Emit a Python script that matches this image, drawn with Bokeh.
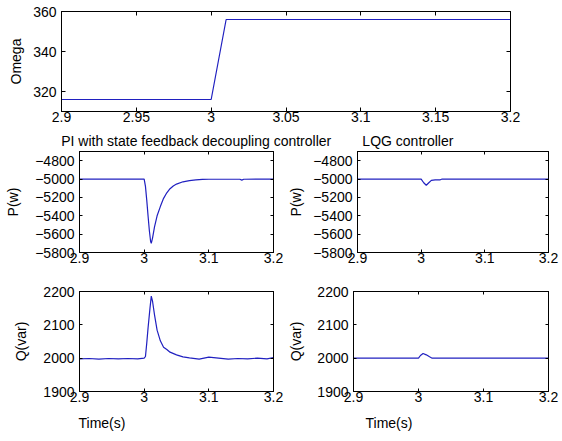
from bokeh.plotting import figure
from bokeh.models import Range1d, FixedTicker, LinearAxis, Title
from bokeh.layouts import column, row
from bokeh.embed import file_html
from bokeh.resources import INLINE
from bokeh.core.properties import value

# ---------------- data ----------------
t_omega = [2.90, 3.00, 3.01, 3.20]
omega = [316, 316, 356, 356]

t_pi_p = [2.900, 3.000, 3.002, 3.004, 3.006, 3.008, 3.010, 3.011, 3.013, 3.016,
          3.020, 3.025, 3.030, 3.035, 3.040, 3.045, 3.050, 3.060, 3.070, 3.080,
          3.090, 3.100, 3.148, 3.151, 3.154, 3.200]
p_pi = [-5000, -5000, -5080, -5230, -5400, -5560, -5680, -5700, -5640, -5520,
        -5400, -5300, -5210, -5150, -5105, -5075, -5055, -5030, -5018, -5010,
        -5004, -5002, -5002, -5012, -5002, -5000]

t_pi_q = [2.900, 2.915, 2.930, 2.945, 2.960, 2.975, 2.990, 3.000, 3.002, 3.004,
          3.006, 3.009, 3.011, 3.013, 3.016, 3.020, 3.025, 3.030, 3.035, 3.040,
          3.050, 3.060, 3.070, 3.085, 3.100, 3.115, 3.130, 3.145, 3.160, 3.175,
          3.190, 3.200]
q_pi = [1998, 1999, 1997, 1999, 1998, 1999, 1998, 2000, 2005, 2045,
        2090, 2150, 2186, 2170, 2130, 2084, 2052, 2033, 2026, 2018,
        2010, 2004, 2001, 1997, 2003, 2000, 1997, 1999, 1998, 2000,
        1998, 2002]

t_lqg_p = [2.900, 3.000, 3.004, 3.008, 3.012, 3.016, 3.022, 3.030, 3.033, 3.200]
p_lqg = [-5000, -5000, -5040, -5068, -5040, -5015, -5010, -5008, -5000, -5000]

t_lqg_q = [2.900, 3.000, 3.003, 3.007, 3.012, 3.017, 3.021, 3.200]
q_lqg = [2000, 2000, 2008, 2014, 2010, 2004, 2000, 2000]

x_ticks_top = [2.9, 2.95, 3.0, 3.05, 3.1, 3.15, 3.2]
x_labels_top = ["2.9", "2.95", "3", "3.05", "3.1", "3.15", "3.2"]
x_ticks_sub = [2.9, 3.0, 3.1, 3.2]
x_labels_sub = ["2.9", "3", "3.1", "3.2"]
omega_ticks = [320, 340, 360]
p_ticks = [-5800, -5600, -5400, -5200, -5000, -4800]
q_ticks = [1900, 2000, 2100, 2200]

titles = ["PI with state feedback decoupling controller", "LQG controller"]
y_labels = ["Omega", "P(w)", "Q(var)"]
x_label = "Time(s)"

# ---------------- style ----------------
FONT = "Liberation Sans"
FS = "14px"
LINE = "#2020c0"
LW = 1.2


def hidden_axis(ticks, tick_len):
    ax = LinearAxis(ticker=FixedTicker(ticks=ticks))
    ax.major_tick_in = tick_len
    ax.major_tick_out = 0
    ax.minor_tick_line_color = None
    ax.major_label_text_font_size = "0px"
    ax.major_label_text_color = None
    ax.major_label_standoff = 0
    ax.axis_line_color = "black"
    ax.major_tick_line_color = "black"
    return ax


def style_axis(ax, ticks, labels, tick_len, standoff):
    ax.ticker = FixedTicker(ticks=ticks)
    if labels is not None:
        ax.major_label_overrides = {t: l for t, l in zip(ticks, labels)}
    ax.major_tick_in = tick_len
    ax.major_tick_out = 0
    ax.minor_tick_line_color = None
    ax.axis_line_color = "black"
    ax.major_tick_line_color = "black"
    ax.major_label_text_font = FONT
    ax.major_label_text_font_size = FS
    ax.major_label_text_color = "black"
    ax.major_label_standoff = standoff
    ax.axis_label_text_font = FONT
    ax.axis_label_text_font_size = FS
    ax.axis_label_text_font_style = "normal"
    ax.axis_label_text_color = "black"


def make_fig(width, height, borders, yr, xt, xl, yt, ylab, ylab_standoff, tick_len):
    left, right, top, bottom = borders
    p = figure(width=width, height=height, x_range=Range1d(2.9, 3.2), y_range=Range1d(*yr),
               toolbar_location=None, output_backend="svg", title=None,
               min_border_left=left, min_border_right=right,
               min_border_top=top, min_border_bottom=bottom)
    p.grid.visible = False
    p.outline_line_color = "black"
    p.background_fill_color = "white"
    p.border_fill_color = "white"
    style_axis(p.xaxis[0], xt, xl, tick_len, 0)
    style_axis(p.yaxis[0], yt, None, tick_len, 5)
    p.yaxis[0].axis_label = ylab
    p.yaxis[0].axis_label_standoff = ylab_standoff
    p.add_layout(hidden_axis(xt, tick_len), "above")
    p.add_layout(hidden_axis(yt, tick_len), "right")
    return p


top = make_fig(560, 128, (61, 50, 11, 17), (310, 360), x_ticks_top, x_labels_top,
               omega_ticks, y_labels[0], 6, 4)
top.line(t_omega, omega, line_color=LINE, line_width=LW)

# title row (plain text strip between the top plot and the two columns)
TH = 22
tf = figure(width=560, height=TH, x_range=Range1d(0, 560), y_range=Range1d(0, TH),
            toolbar_location=None, output_backend="svg", title=None,
            x_axis_type=None, y_axis_type=None, min_border=0)
tf.grid.visible = False
tf.outline_line_color = None
tf.text(x=[168, 432], y=[TH - 12.5, TH - 12.5], text=titles, text_align="center",
        text_baseline="middle", text_font=value(FONT), text_font_size=FS,
        text_color="black")

ml = make_fig(285, 131, (79, 12, 1, 29), (-5800, -4700), x_ticks_sub, x_labels_sub,
              p_ticks, y_labels[1], 11, 3)
ml.line(t_pi_p, p_pi, line_color=LINE, line_width=LW)

mr = make_fig(275, 131, (68, 12, 1, 29), (-5800, -4700), x_ticks_sub, x_labels_sub,
              p_ticks, y_labels[1], 6, 3)
mr.line(t_lqg_p, p_lqg, line_color=LINE, line_width=LW)

bl = make_fig(285, 160, (79, 12, 10, 50), (1900, 2200), x_ticks_sub, x_labels_sub,
              q_ticks, y_labels[2], 11, 3)
bl.line(t_pi_q, q_pi, line_color=LINE, line_width=LW)

br = make_fig(275, 160, (68, 12, 10, 50), (1900, 2200), x_ticks_sub, x_labels_sub,
              q_ticks, y_labels[2], 10, 3)
br.line(t_lqg_q, q_lqg, line_color=LINE, line_width=LW)

for fig, off in ((bl, -1), (br, 12)):
    fig.add_layout(Title(text=x_label, align="left", offset=off, standoff=16,
                         text_font=FONT, text_font_size=FS, text_font_style="normal",
                         text_color="black"), "below")

layout = column(top, tf, row(ml, mr, spacing=0), row(bl, br, spacing=0), spacing=0)

open("out.html", "w").write(file_html(layout, INLINE))
